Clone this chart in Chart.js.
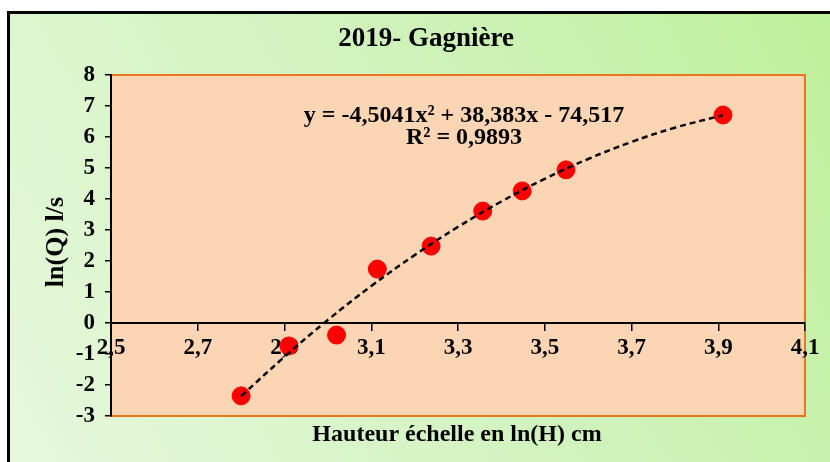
<!DOCTYPE html>
<html>
<head>
<meta charset="utf-8">
<script src="https://cdn.jsdelivr.net/npm/chart.js@4.4.0/dist/chart.umd.min.js"></script>
<style>
    html, body { margin: 0; padding: 0; background: #fff; }
    #wrap { width: 830px; height: 462px; position: relative; }
</style>
</head>
<body>
<div id="wrap"><canvas id="charts-gagniere" width="830" height="462"></canvas></div>
<script>
// mesures 2019 - ln(H) en cm, ln(Q) en l/s
var hauteur = [2.80, 2.91, 3.02, 3.114, 3.238, 3.357, 3.448, 3.549, 3.911];
var debit = [-2.35, -0.74, -0.39, 1.74, 2.48, 3.61, 4.26, 4.94, 6.71];
// courbe de tendance (polynomiale)
var trendX = [2.80, 2.90, 3.00, 3.10, 3.20, 3.30, 3.40, 3.50, 3.60, 3.70, 3.80, 3.91];
var trendY = [-2.36, -1.09, 0.10, 1.19, 2.19, 3.10, 3.92, 4.65, 5.29, 5.84, 6.30, 6.70];
var xTicks = [2.5, 2.7, 2.9, 3.1, 3.3, 3.5, 3.7, 3.9, 4.1];
var yTicks = [-3, -2, -1, 0, 1, 2, 3, 4, 5, 6, 7, 8];
var titre = '2019- Gagnière';
var equation = 'y = -4,5041x² + 38,383x - 74,517';
var r2 = 'R² = 0,9893';

function toPoints(xs, ys){
    var pts = [];
    for (var i = 0; i < xs.length; i++) {
        pts.push({x: xs[i], y: ys[i]});
    }
    return pts;
}

var serif = "'Liberation Serif', 'Times New Roman', serif";

var decor = {
    id: 'decor',
    beforeDraw: function(chart){
        var ctx = chart.ctx;
        var a = chart.chartArea;
        ctx.save();
        ctx.fillStyle = '#fff';
        ctx.fillRect(0, 0, chart.width, chart.height);
        var g = ctx.createLinearGradient(10, 462, 830, 14);
        g.addColorStop(0, '#e6f8dc');
        g.addColorStop(0.5, '#d2f3c0');
        g.addColorStop(1, '#bff09c');
        ctx.fillStyle = g;
        ctx.fillRect(9, 13, chart.width, chart.height);
        ctx.strokeStyle = '#000';
        ctx.lineWidth = 3;
        ctx.beginPath();
        ctx.moveTo(8.5, chart.height + 5);
        ctx.lineTo(8.5, 12.5);
        ctx.lineTo(chart.width + 5, 12.5);
        ctx.stroke();
        // zone de tracé
        ctx.fillStyle = '#fcd5b5';
        ctx.fillRect(a.left, a.top, a.right - a.left, a.bottom - a.top);
        ctx.strokeStyle = '#e8781e';
        ctx.lineWidth = 2;
        ctx.strokeRect(a.left, a.top, a.right - a.left, a.bottom - a.top);
        ctx.restore();
    },
    afterDraw: function(chart){
        var ctx = chart.ctx;
        ctx.save();
        ctx.fillStyle = '#000';
        ctx.textAlign = 'center';
        ctx.textBaseline = 'alphabetic';
        ctx.font = 'bold 27px ' + serif;
        ctx.fillText(titre, 426, 46);
        ctx.font = 'bold 24px ' + serif;
        ctx.fillText(equation, 464, 122);
        ctx.fillText(r2, 464, 144);
        ctx.font = 'bold 24px ' + serif;
        ctx.fillText('Hauteur échelle en ln(H) cm', 457, 441);
        ctx.translate(63, 242);
        ctx.rotate(-Math.PI / 2);
        ctx.font = 'bold 26px ' + serif;
        ctx.fillText('ln(Q) l/s', 0, 0);
        ctx.restore();
    }
};

var config = {
    type: 'scatter',
    data: {
        datasets: [
            {
                label: 'ln(Q)',
                data: toPoints(hauteur, debit),
                backgroundColor: '#ff0000',
                borderColor: '#ff0000',
                pointRadius: 9,
                pointHoverRadius: 9,
                order: 2
            },
            {
                label: 'Poly.',
                data: toPoints(trendX, trendY),
                showLine: true,
                borderColor: '#000',
                borderWidth: 2.5,
                borderDash: [6, 4],
                tension: 0.4,
                pointRadius: 0,
                fill: false,
                order: 1
            }
        ]
    },
    options: {
        responsive: false,
        animation: false,
        events: [],
        layout: {
            padding: { left: 0, top: 75, right: 25, bottom: 46 }
        },
        plugins: {
            legend: { display: false },
            title: { display: false },
            tooltip: { enabled: false }
        },
        scales: {
            x: {
                type: 'linear',
                position: { y: 0 },
                min: 2.5,
                max: 4.1,
                afterBuildTicks: function(scale){
                    scale.ticks = xTicks.map(function(v){ return {value: v}; });
                },
                grid: {
                    drawOnChartArea: false,
                    drawTicks: true,
                    tickLength: 7,
                    color: '#000',
                    lineWidth: 1.5
                },
                border: { color: '#000', width: 2 },
                ticks: {
                    color: '#000',
                    padding: 4,
                    maxRotation: 0,
                    autoSkip: false,
                    font: { family: serif, size: 23, weight: 'bold' },
                    callback: function(v){ return v.toFixed(1).replace('.', ','); }
                }
            },
            y: {
                type: 'linear',
                min: -3,
                max: 8,
                afterBuildTicks: function(scale){
                    scale.ticks = yTicks.map(function(v){ return {value: v}; });
                },
                afterFit: function(scale){ scale.width = 111; },
                grid: {
                    drawOnChartArea: false,
                    drawTicks: true,
                    tickLength: 6,
                    color: '#000',
                    lineWidth: 1.5
                },
                border: { color: '#000', width: 2 },
                ticks: {
                    color: '#000',
                    padding: 10,
                    font: { family: serif, size: 23, weight: 'bold' }
                }
            }
        }
    },
    plugins: [decor]
};

function $id(id){ return document.getElementById(id); }
var gagniereChart = new Chart($id('charts-gagniere'), config);
</script>
</body>
</html>
